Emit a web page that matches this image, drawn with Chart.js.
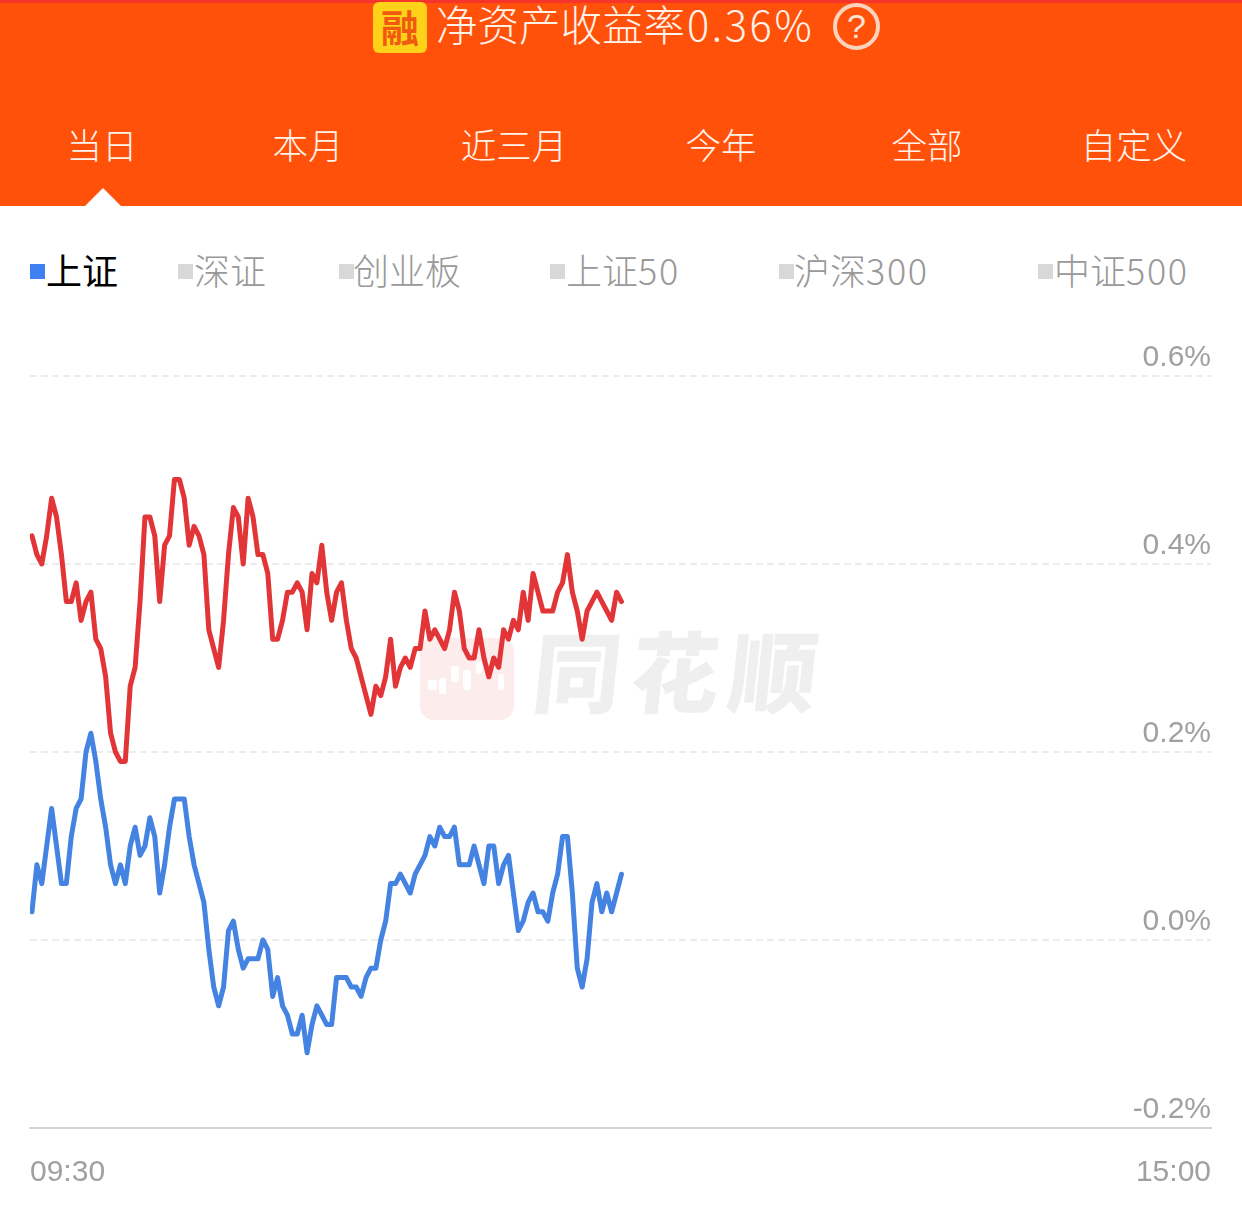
<!DOCTYPE html>
<html lang="zh">
<head>
<meta charset="utf-8">
<title>净资产收益率</title>
<script src="https://cdn.jsdelivr.net/npm/chart.js@4"></script>
<style>
    html, body { margin: 0; padding: 0; background: #fff; }
    body { position: relative; width: 1242px; height: 1227px; overflow: hidden;
           font-family: "Noto Sans CJK SC", "Noto Sans", sans-serif; font-weight: 400; }
    .topo { position: absolute; left: 0; top: 0; width: 1242px; height: 206px; background: #ff510a; border-top: 3px solid #f5352b; box-sizing: border-box; }
    .selo { position: absolute; left: 373px; top: 2px; width: 54px; height: 51px; background: #ffd21a; border-radius: 6px;
            color: #ef5a10; font-size: 38px; font-weight: 700; line-height: 48px; text-align: center; }
    .titulo { position: absolute; left: 436px; top: -3px; height: 52px; line-height: 52px; font-size: 41.5px; font-weight: 300; color: #fff3ea; white-space: nowrap; }
    .titulo span { letter-spacing: 2.6px; margin-left: 2px; }
    .ajuda { position: absolute; left: 833px; top: 3px; width: 47px; height: 47px; box-sizing: border-box; border: 4px solid #fbd3bf; border-radius: 50%;
             color: #fbe3d6; font-size: 34px; font-weight: 400; line-height: 39px; text-align: center; font-family: "Liberation Sans", sans-serif; }
    .aba { position: absolute; top: 118px; width: 180px; margin-left: -90px; height: 52px; line-height: 52px; font-size: 35.5px; font-weight: 300; text-align: center; color: #fff3ea; }
    .seta { position: absolute; left: 85px; top: 188px; width: 0; height: 0; border-left: 18px solid transparent; border-right: 18px solid transparent; border-bottom: 18px solid #fff; }
    .quadro { position: absolute; top: 264px; width: 15px; height: 15px; background: #d8d8d8; }
    .indice { position: absolute; top: 243px; height: 52px; line-height: 52px; font-size: 36px; font-weight: 300; color: #999; white-space: nowrap; }
    .indice span { letter-spacing: 1.6px; }
    .marca { position: absolute; left: 420px; top: 638px; width: 94px; height: 82px; background: #fdecec; border-radius: 14px; }
    .vela { position: absolute; background: #fff; border-radius: 2px; }
    .logo { position: absolute; left: 534px; top: 606px; font-size: 88px; letter-spacing: 10px; line-height: 124px; font-weight: 900; color: #efefef; white-space: nowrap; transform: skewX(-6deg); }
    canvas { position: absolute; left: 0; top: 0; }
</style>
</head>
<body>
<div class="topo"></div>
<div class="selo">融</div>
<div class="titulo">净资产收益率<span>0.36%</span></div>
<div class="ajuda">?</div>
<div id="abas"></div>
<div class="seta"></div>
<div id="indices"></div>
<div class="marca">
    <div class="vela" style="left:8px;top:42px;width:9px;height:10px"></div>
    <div class="vela" style="left:19px;top:40px;width:7px;height:16px"></div>
    <div class="vela" style="left:31px;top:28px;width:8px;height:16px"></div>
    <div class="vela" style="left:43px;top:32px;width:8px;height:20px"></div>
    <div class="vela" style="left:56px;top:24px;width:6px;height:12px"></div>
    <div class="vela" style="left:78px;top:36px;width:6px;height:16px"></div>
</div>
<div class="logo">同花顺</div>
<canvas id="grafico" width="1242" height="1227"></canvas>

<script>
// Dados do gráfico
const periodos = ['当日', '本月', '近三月', '今年', '全部', '自定义'];
const indices = ['上证', '深证', '创业板', '上证50', '沪深300', '中证500'];
const rotulosTempo = ['09:30', '15:00'];
const minutosTotal = 240;

const rendimentoConta = [
    0.43, 0.41, 0.40, 0.43, 0.47, 0.45, 0.41, 0.36, 0.36, 0.38,
    0.34, 0.36, 0.37, 0.32, 0.31, 0.28, 0.22, 0.20, 0.19, 0.19,
    0.27, 0.29, 0.36, 0.45, 0.45, 0.43, 0.36, 0.42, 0.43, 0.49,
    0.49, 0.47, 0.42, 0.44, 0.43, 0.41, 0.33, 0.31, 0.29, 0.34,
    0.41, 0.46, 0.45, 0.40, 0.47, 0.45, 0.41, 0.41, 0.39, 0.32,
    0.32, 0.34, 0.37, 0.37, 0.38, 0.37, 0.33, 0.39, 0.38, 0.42,
    0.37, 0.34, 0.37, 0.38, 0.34, 0.31, 0.30, 0.28, 0.26, 0.24,
    0.27, 0.26, 0.28, 0.32, 0.27, 0.29, 0.30, 0.29, 0.31, 0.31,
    0.35, 0.32, 0.33, 0.32, 0.31, 0.33, 0.37, 0.35, 0.31, 0.30,
    0.30, 0.33, 0.30, 0.28, 0.30, 0.29, 0.33, 0.32, 0.34, 0.33,
    0.37, 0.34, 0.39, 0.37, 0.35, 0.35, 0.35, 0.37, 0.38, 0.41,
    0.37, 0.35, 0.32, 0.35, 0.36, 0.37, 0.36, 0.35, 0.34, 0.37,
    0.36
];

const rendimentoIndice = [
    0.03, 0.08, 0.06, 0.10, 0.14, 0.10, 0.06, 0.06, 0.11, 0.14,
    0.15, 0.20, 0.22, 0.19, 0.15, 0.12, 0.08, 0.06, 0.08, 0.06,
    0.10, 0.12, 0.09, 0.10, 0.13, 0.11, 0.05, 0.08, 0.12, 0.15,
    0.15, 0.15, 0.11, 0.08, 0.06, 0.04, -0.01, -0.05, -0.07, -0.05,
    0.01, 0.02, -0.01, -0.03, -0.02, -0.02, -0.02, 0.00, -0.01, -0.06,
    -0.04, -0.07, -0.08, -0.10, -0.10, -0.08, -0.12, -0.09, -0.07, -0.08,
    -0.09, -0.09, -0.04, -0.04, -0.04, -0.05, -0.05, -0.06, -0.04, -0.03,
    -0.03, 0.00, 0.02, 0.06, 0.06, 0.07, 0.06, 0.05, 0.07, 0.08,
    0.09, 0.11, 0.10, 0.12, 0.11, 0.11, 0.12, 0.08, 0.08, 0.08,
    0.10, 0.08, 0.06, 0.10, 0.10, 0.06, 0.08, 0.09, 0.05, 0.01,
    0.02, 0.04, 0.05, 0.03, 0.03, 0.02, 0.05, 0.07, 0.11, 0.11,
    0.05, -0.03, -0.05, -0.02, 0.04, 0.06, 0.03, 0.05, 0.03, 0.05,
    0.07
];

// Posições do cabeçalho
const centrosAbas = [102, 308, 514, 721, 927, 1134];
const quadrosX = [30, 178, 339, 550, 779, 1038];
const textosX = [46, 194, 353, 566, 794, 1054];

centrosAbas.forEach((x, i) => {
    const aba = document.createElement('div');
    aba.className = 'aba';
    aba.style.left = x + 'px';
    aba.textContent = periodos[i];
    document.getElementById('abas').appendChild(aba);
});

indices.forEach((nome, i) => {
    const quadro = document.createElement('div');
    quadro.className = 'quadro';
    quadro.style.left = quadrosX[i] + 'px';
    const texto = document.createElement('div');
    texto.className = 'indice';
    texto.style.left = textosX[i] + 'px';
    texto.innerHTML = nome.replace(/\d+/, '<span>$&</span>');
    if (i === 0) {
        quadro.style.background = '#3f80f2';
        texto.style.color = '#000';
        texto.style.fontWeight = 400;
    }
    const caixa = document.getElementById('indices');
    caixa.appendChild(quadro);
    caixa.appendChild(texto);
});

// Configuração do gráfico
const fonteEixo = { family: '"Liberation Sans", sans-serif', size: 30 };

new Chart(document.getElementById('grafico').getContext('2d'), {
    type: 'line',
    data: {
        datasets: [
            {
                data: rendimentoConta.map((v, i) => ({ x: i, y: v })),
                borderColor: '#e23538',
                borderWidth: 5,
                borderJoinStyle: 'round',
                borderCapStyle: 'round',
                pointRadius: 0,
                tension: 0
            },
            {
                data: rendimentoIndice.map((v, i) => ({ x: i, y: v })),
                borderColor: '#4483e2',
                borderWidth: 5,
                borderJoinStyle: 'round',
                borderCapStyle: 'round',
                pointRadius: 0,
                tension: 0
            }
        ]
    },
    options: {
        responsive: false,
        devicePixelRatio: 1,
        animation: false,
        layout: { padding: { left: 30, right: 31, top: 376, bottom: 0 } },
        plugins: { legend: { display: false }, tooltip: { enabled: false } },
        scales: {
            x: {
                type: 'linear',
                min: -0.4,
                max: minutosTotal,
                afterFit: escala => { escala.height = 99; },
                afterBuildTicks: escala => {
                    escala.ticks = [{ value: -0.4 }, { value: minutosTotal }];
                },
                grid: { display: false, drawTicks: false },
                border: { color: '#d4d4d4', width: 2 },
                ticks: {
                    autoSkip: false,
                    maxRotation: 0,
                    align: 'inner',
                    padding: 27,
                    color: '#a0a0a0',
                    font: fonteEixo,
                    callback: (valor, i) => rotulosTempo[i]
                }
            },
            y: {
                position: 'right',
                min: -0.2,
                max: 0.6,
                afterFit: escala => { escala.width = 0; },
                grid: {
                    drawTicks: false,
                    lineWidth: 2,
                    color: ctx => (ctx.index === 0 ? 'rgba(0,0,0,0)' : '#ececec')
                },
                border: { display: false, dash: [7, 4] },
                ticks: {
                    stepSize: 0.2,
                    mirror: true,
                    padding: 0,
                    labelOffset: -18,
                    color: '#a0a0a0',
                    font: fonteEixo,
                    callback: valor => valor.toFixed(1) + '%'
                }
            }
        }
    }
});
</script>
</body>
</html>
